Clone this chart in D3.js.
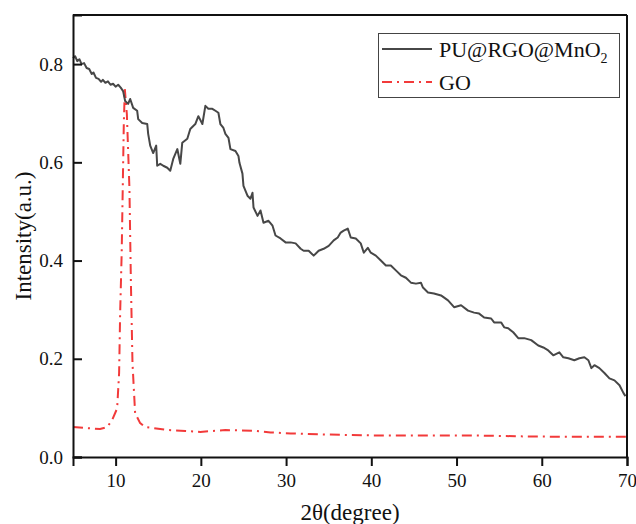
<!DOCTYPE html>
<html>
<head>
<meta charset="utf-8">
<script src="https://cdn.jsdelivr.net/npm/d3@7"></script>
<style>
  html, body { margin: 0; padding: 0; background: #fff; }
  svg { display: block; }
  text { font-family: "Liberation Serif", "Times New Roman", serif; fill: #111; }
</style>
</head>
<body>
<svg id="chart" width="636" height="524"></svg>
<script>
// ---- data ----
const puX = [5.0,5.25,5.5,5.75,6.0,6.3,6.6,6.9,7.2,7.4,7.7,8.0,8.3,8.5,8.8,9.1,9.4,9.7,10.0,10.3,10.6,10.88,11.12,11.47,11.71,12.06,12.53,12.65,13.12,13.71,13.82,14.06,14.41,14.76,14.88,15.24,15.59,16.06,16.41,16.76,17.24,17.59,17.82,18.41,18.76,19.35,19.71,20.18,20.53,20.88,21.35,21.71,22.06,22.29,22.65,22.88,23.24,23.47,24.06,24.41,24.53,24.88,25.0,25.47,25.82,26.06,26.18,26.65,27.0,27.35,27.94,28.41,28.76,29.35,29.94,30.53,31.12,31.71,32.06,32.65,33.24,33.82,34.41,35.0,35.59,36.06,36.41,36.76,37.24,37.59,38.18,38.76,39.12,39.59,39.94,40.53,41.12,41.71,42.29,42.88,43.47,44.06,44.65,45.24,45.82,46.06,46.65,47.35,48.18,49.0,49.71,50.53,51.35,52.06,52.65,53.24,54.06,54.41,55.24,55.59,56.06,56.65,57.24,57.94,58.76,59.59,60.18,60.76,61.35,62.06,62.53,63.12,63.82,64.41,65.0,65.47,65.82,66.18,66.76,67.35,67.94,68.53,69.12,69.59,69.82];
const puY = [0.812,0.816,0.806,0.810,0.800,0.802,0.792,0.790,0.780,0.783,0.772,0.770,0.764,0.768,0.762,0.765,0.758,0.760,0.754,0.758,0.752,0.745,0.725,0.719,0.729,0.711,0.705,0.688,0.680,0.678,0.658,0.634,0.619,0.634,0.593,0.597,0.593,0.589,0.583,0.607,0.627,0.597,0.640,0.648,0.668,0.678,0.694,0.678,0.715,0.709,0.709,0.705,0.701,0.678,0.670,0.658,0.650,0.627,0.623,0.613,0.599,0.577,0.552,0.532,0.526,0.538,0.508,0.491,0.502,0.477,0.481,0.471,0.451,0.445,0.437,0.437,0.435,0.424,0.420,0.420,0.410,0.420,0.424,0.430,0.441,0.447,0.457,0.461,0.465,0.447,0.445,0.435,0.416,0.426,0.416,0.410,0.400,0.390,0.390,0.380,0.370,0.365,0.355,0.353,0.355,0.345,0.335,0.333,0.329,0.319,0.305,0.309,0.298,0.294,0.292,0.284,0.282,0.274,0.274,0.264,0.262,0.254,0.242,0.242,0.238,0.227,0.223,0.217,0.207,0.213,0.203,0.201,0.197,0.201,0.203,0.197,0.181,0.187,0.181,0.171,0.160,0.156,0.146,0.130,0.124];

const goX = [5.0,6.41,8.18,9.0,9.59,10.18,10.41,10.53,10.71,10.85,10.96,11.08,11.32,11.62,11.79,11.98,12.29,12.88,13.47,14.41,16.06,18.18,19.94,21.35,22.88,24.65,26.41,28.18,30.53,34.06,39.94,45.82,51.71,57.59,63.47,70.0];
const goY = [0.061,0.059,0.057,0.061,0.075,0.099,0.171,0.292,0.414,0.562,0.678,0.749,0.698,0.548,0.359,0.191,0.089,0.069,0.061,0.059,0.055,0.053,0.051,0.053,0.055,0.054,0.053,0.050,0.048,0.046,0.044,0.044,0.044,0.042,0.041,0.041];

const xTicks = [10,20,30,40,50,60,70];
const xMinor = [15,25,35,45,55,65];
const yTicks = [0.0,0.2,0.4,0.6,0.8];
const yMinor = [0.1,0.3,0.5,0.7];
const seriesNames = ["PU@RGO@MnO", "GO"];

// ---- layout ----
const W = 636, H = 524;
const m = {left: 73, top: 15, right: 9, bottom: 67};
const svg = d3.select("#chart");
const x = d3.scaleLinear().domain([5, 70]).range([m.left, W - m.right]);
const y = d3.scaleLinear().domain([0, 0.9]).range([H - m.bottom, m.top]);

const blackCol = "#474747", redCol = "#f23a3a";
const fontTick = 19;

const line = (xs, ys) => d3.line().x((d, i) => x(xs[i])).y((d, i) => y(ys[i]))(xs);

svg.append("path").attr("d", line(goX, goY)).attr("fill", "none")
  .attr("stroke", redCol).attr("stroke-width", 2).attr("stroke-dasharray", "10,5,2,5");
svg.append("path").attr("d", line(puX, puY)).attr("fill", "none")
  .attr("stroke", blackCol).attr("stroke-width", 2).attr("stroke-linejoin", "round");

// frame
svg.append("line").attr("x1", m.left).attr("x2", W - m.right).attr("y1", m.top).attr("y2", m.top)
  .attr("stroke", "#111").attr("stroke-width", 2);
svg.append("line").attr("x1", W - m.right).attr("x2", W - m.right).attr("y1", m.top).attr("y2", H - m.bottom)
  .attr("stroke", "#111").attr("stroke-width", 2);

// x axis
const gx = svg.append("g").attr("transform", `translate(0,${H - m.bottom})`);
gx.call(d3.axisBottom(x).tickValues(xMinor).tickSize(5).tickFormat(""));
gx.call(d3.axisBottom(x).tickValues(xTicks).tickSize(9).tickPadding(8).tickFormat(d3.format("d")));
gx.selectAll(".domain").attr("stroke", "#111").attr("stroke-width", 2);
gx.selectAll(".tick line").attr("stroke", "#111").attr("stroke-width", 2);
gx.selectAll(".tick text").attr("font-size", fontTick).attr("font-family", "Liberation Serif, serif").attr("fill", "#111");

// y axis (ticks inward)
const gy = svg.append("g").attr("transform", `translate(${m.left},0)`);
gy.call(d3.axisLeft(y).tickValues(yMinor).tickSize(-5).tickFormat(""));
gy.call(d3.axisLeft(y).tickValues(yTicks).tickSize(-9).tickPadding(10).tickFormat(d3.format(".1f")));
gy.selectAll(".domain").attr("stroke", "#111").attr("stroke-width", 2);
gy.selectAll(".tick line").attr("stroke", "#111").attr("stroke-width", 2);
gy.selectAll(".tick text").attr("font-size", fontTick).attr("font-family", "Liberation Serif, serif").attr("fill", "#111");

// axis titles
svg.append("text").attr("x", (m.left + W - m.right) / 2).attr("y", 520)
  .attr("text-anchor", "middle").attr("font-size", 23).text("2θ(degree)");
svg.append("text").attr("transform", `translate(31,${(m.top + H - m.bottom) / 2}) rotate(-90)`)
  .attr("text-anchor", "middle").attr("font-size", 23).text("Intensity(a.u.)");

// legend
const lg = svg.append("g");
lg.append("rect").attr("x", 378.5).attr("y", 33.5).attr("width", 241).attr("height", 64)
  .attr("fill", "#fff").attr("stroke", "#444").attr("stroke-width", 1);
lg.append("line").attr("x1", 382).attr("x2", 432).attr("y1", 49).attr("y2", 49)
  .attr("stroke", blackCol).attr("stroke-width", 2);
lg.append("line").attr("x1", 382).attr("x2", 432).attr("y1", 82).attr("y2", 82)
  .attr("stroke", redCol).attr("stroke-width", 2).attr("stroke-dasharray", "10,5,2,5");
const t1 = lg.append("text").attr("x", 439).attr("y", 57).attr("font-size", 22);
t1.append("tspan").text(seriesNames[0]);
t1.append("tspan").attr("font-size", 14).attr("dy", 6).text("2");
lg.append("text").attr("x", 439).attr("y", 90).attr("font-size", 22).text(seriesNames[1]);
</script>
</body>
</html>
